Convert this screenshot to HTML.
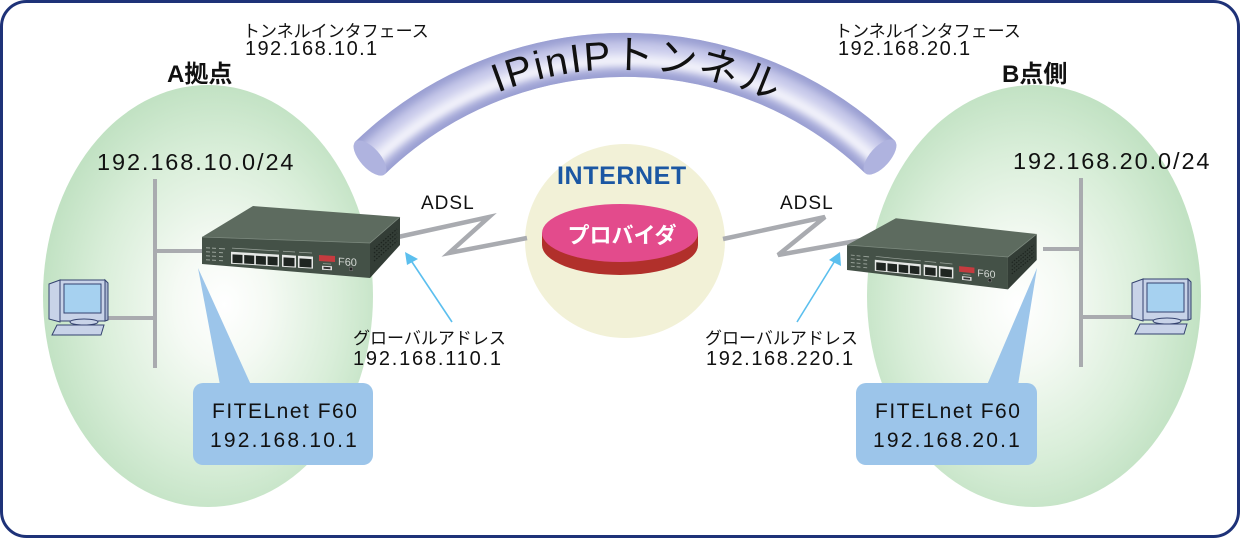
<!DOCTYPE html>
<html>
<head>
<meta charset="utf-8">
<style>
  html,body{margin:0;padding:0;background:#fff;}
  body{width:1240px;height:538px;overflow:hidden;}
  svg{display:block;}
  .jp{font-family:"Liberation Sans","Noto Sans CJK JP",sans-serif;}
</style>
</head>
<body>
<svg width="1240" height="538" viewBox="0 0 1240 538" xmlns="http://www.w3.org/2000/svg">
  <defs>
    <radialGradient id="gL" cx="0.52" cy="0.52" r="0.56" fx="0.55" fy="0.52">
      <stop offset="0" stop-color="#ffffff"/>
      <stop offset="0.25" stop-color="#f5faf4"/>
      <stop offset="0.65" stop-color="#d9eed9"/>
      <stop offset="1" stop-color="#bcdfbe"/>
    </radialGradient>
    <radialGradient id="gR" cx="0.48" cy="0.52" r="0.56" fx="0.45" fy="0.52">
      <stop offset="0" stop-color="#ffffff"/>
      <stop offset="0.25" stop-color="#f5faf4"/>
      <stop offset="0.65" stop-color="#d9eed9"/>
      <stop offset="1" stop-color="#bcdfbe"/>
    </radialGradient>
    <path id="arcText" d="M 318.4 246 A 354 354 0 0 1 931.6 246"/>
    <filter id="soft" x="-10%" y="-30%" width="120%" height="160%">
      <feGaussianBlur stdDeviation="3.2"/>
    </filter>
    <mask id="tubeMask" maskUnits="userSpaceOnUse" x="0" y="0" width="1240" height="538">
      <path d="M 370 158 A 368 368 0 0 1 880 157" fill="none" stroke="#ffffff" stroke-width="44"/>
    </mask>
  </defs>

  <!-- frame -->
  <rect x="1.5" y="1.5" width="1237" height="535" rx="25" ry="25" fill="#ffffff" stroke="#1e3278" stroke-width="3"/>

  <!-- site ellipses -->
  <ellipse cx="208" cy="296" rx="165" ry="211" fill="url(#gL)"/>
  <ellipse cx="1034" cy="296" rx="167" ry="211" fill="url(#gR)"/>

  <!-- internet circle -->
  <ellipse cx="625" cy="241" rx="100" ry="97" fill="#f2f1d7"/>

  <!-- tunnel -->
  <path d="M 370 158 A 368 368 0 0 1 880 157" fill="none" stroke="#9a9fd2" stroke-width="44"/>
  <g mask="url(#tubeMask)">
    <g fill="none" filter="url(#soft)">
      <path d="M 370 158 A 368 368 0 0 1 880 157" stroke="#9a9fd2" stroke-width="44"/>
      <path d="M 370 158 A 368 368 0 0 1 880 157" stroke="#b0b4de" stroke-width="34"/>
      <path d="M 370 158 A 368 368 0 0 1 880 157" stroke="#c9cbeb" stroke-width="24"/>
      <path d="M 372 161 A 366 366 0 0 1 878 160" stroke="#e2e3f5" stroke-width="14"/>
      <path d="M 373 163 A 365 365 0 0 1 877 162" stroke="#f6f6fc" stroke-width="6"/>
    </g>
  </g>
  <ellipse cx="370" cy="158" rx="22" ry="10" transform="rotate(48 370 158)" fill="#afb3df"/>
  <ellipse cx="880" cy="157" rx="22" ry="10" transform="rotate(-48 880 157)" fill="#afb3df"/>
  <text class="jp" font-size="40" letter-spacing="2" fill="#111"><textPath href="#arcText" startOffset="51.7%" text-anchor="middle">IPinIPトンネル</textPath></text>

  <!-- ADSL zigzags -->
  <g fill="none" stroke="#a9abb0" stroke-width="4.5" stroke-linejoin="miter">
    <polyline points="398,237 489,217 449,253 527,238"/>
    <polyline points="723,239 825,217 778,255 862,240"/>
  </g>

  <!-- provider disc -->
  <ellipse cx="620" cy="245" rx="78" ry="30" fill="#b1302b"/>
  <rect x="542" y="233" width="156" height="12" fill="#b1302b"/>
  <ellipse cx="620" cy="233" rx="78" ry="29" fill="#e34b8c"/>
  <text x="622" y="243" class="jp" font-size="22" font-weight="bold" fill="#ffffff" text-anchor="middle">プロバイダ</text>

  <text x="557" y="184" font-family="Liberation Sans, sans-serif" font-size="25" font-weight="bold" fill="#1b57a3" letter-spacing="0.6">INTERNET</text>

  <!-- LAN lines -->
  <g stroke="#a9abaf" stroke-width="4" fill="none">
    <line x1="155" y1="179" x2="155" y2="368"/>
    <line x1="155" y1="251" x2="204" y2="251"/>
    <line x1="104" y1="318" x2="155" y2="318"/>
    <line x1="1081" y1="178" x2="1081" y2="367"/>
    <line x1="1043" y1="249" x2="1081" y2="249"/>
    <line x1="1081" y1="317" x2="1133" y2="317"/>
  </g>

  <!-- PCs -->
  <g stroke="#34426f" stroke-width="1" fill="#c8d3e8">
    <polygon points="49,284 60,280 60,322 49,319"/>
    <rect x="60" y="280" width="45" height="41"/>
    <polygon points="105,280 108,283 108,320 105,321" fill="#a9b6d2"/>
    <rect x="64" y="284" width="37" height="29" fill="#a6d1f0"/>
    <ellipse cx="84" cy="322" rx="14" ry="3"/>
    <polygon points="57,325 104,325 101,335 52,335"/>
  </g>
  <g stroke="#34426f" stroke-width="1" fill="#c8d3e8" transform="translate(1083,-1)">
    <polygon points="49,284 60,280 60,322 49,319"/>
    <rect x="60" y="280" width="45" height="41"/>
    <polygon points="105,280 108,283 108,320 105,321" fill="#a9b6d2"/>
    <rect x="64" y="284" width="37" height="29" fill="#a6d1f0"/>
    <ellipse cx="84" cy="322" rx="14" ry="3"/>
    <polygon points="57,325 104,325 101,335 52,335"/>
  </g>

  <!-- Router left -->
  <g>
    <polygon points="202,237 253,206 400,217 370,243" fill="#5d6b5f"/>
    <polygon points="202,237 370,243 370,278 202,264" fill="#445147"/>
    <polygon points="370,243 400,217 400,245 370,278" fill="#333d36"/>
    <polyline points="202,237 370,243 400,217" fill="none" stroke="#7d8a7f" stroke-width="0.8"/>
    <g stroke="#1d241f" stroke-width="1.2" stroke-dasharray="1.5 1.5">
      <line x1="374" y1="249" x2="397" y2="229"/>
      <line x1="374" y1="253" x2="397" y2="233"/>
      <line x1="374" y1="257" x2="397" y2="237"/>
      <line x1="374" y1="261" x2="397" y2="241"/>
    </g>
    <g transform="translate(202,237) matrix(1,0.06,0,1,0,0)">
      <g fill="#9aa39b">
        <rect x="4" y="10" width="4" height="1"/><rect x="10" y="10" width="4" height="1"/><rect x="17" y="10" width="6" height="1"/>
        <rect x="4" y="14" width="4" height="1"/><rect x="10" y="14" width="4" height="1"/><rect x="17" y="14" width="4" height="1"/>
        <rect x="4" y="18" width="4" height="1"/><rect x="10" y="18" width="4" height="1"/><rect x="17" y="18" width="4" height="1"/>
        <rect x="4" y="22" width="4" height="1"/><rect x="10" y="22" width="4" height="1"/><rect x="17" y="22" width="4" height="1"/>
        <rect x="30" y="9" width="47" height="0.7"/>
        <rect x="81" y="9" width="12" height="0.8"/>
        <rect x="97" y="9" width="13" height="0.8"/>
        <rect x="121" y="19" width="8" height="0.8"/>
      </g>
      <rect x="29" y="13" width="48" height="12" fill="#e6e8e6"/>
      <g fill="#1f2521">
        <rect x="30.5" y="15.5" width="10" height="8.5"/>
        <rect x="42.2" y="15.5" width="10" height="8.5"/>
        <rect x="53.9" y="15.5" width="10" height="8.5"/>
        <rect x="65.6" y="15.5" width="10" height="8.5"/>
      </g>
      <rect x="80" y="13" width="14" height="12" fill="#e6e8e6"/>
      <rect x="81.5" y="15.5" width="11" height="8.5" fill="#1f2521"/>
      <rect x="96" y="13" width="15" height="12" fill="#e6e8e6"/>
      <rect x="97.5" y="15.5" width="12" height="8.5" fill="#1f2521"/>
      <rect x="117" y="11" width="16" height="6" fill="#c63b3f"/>
      <text x="136" y="20" font-family="Liberation Sans, sans-serif" font-size="11" fill="#d4d8d4">F60</text>
      <rect x="120" y="21.5" width="10" height="4" fill="#e0e0e0"/>
      <rect x="121.5" y="22.5" width="7" height="2" fill="#333"/>
      <circle cx="149" cy="23" r="1.8" fill="#222" stroke="#888" stroke-width="0.5"/>
    </g>
  </g>

  <!-- Router right -->
  <g transform="matrix(0.958 0.0383 0 0.926 653.5 17.8)">
    <polygon points="202,237 253,206 400,217 370,243" fill="#5d6b5f"/>
    <polygon points="202,237 370,243 370,278 202,264" fill="#445147"/>
    <polygon points="370,243 400,217 400,245 370,278" fill="#333d36"/>
    <polyline points="202,237 370,243 400,217" fill="none" stroke="#7d8a7f" stroke-width="0.8"/>
    <g stroke="#1d241f" stroke-width="1.2" stroke-dasharray="1.5 1.5">
      <line x1="374" y1="249" x2="397" y2="229"/>
      <line x1="374" y1="253" x2="397" y2="233"/>
      <line x1="374" y1="257" x2="397" y2="237"/>
      <line x1="374" y1="261" x2="397" y2="241"/>
    </g>
    <g transform="translate(202,237) matrix(1,0.06,0,1,0,0)">
      <g fill="#9aa39b">
        <rect x="4" y="10" width="4" height="1"/><rect x="10" y="10" width="4" height="1"/><rect x="17" y="10" width="6" height="1"/>
        <rect x="4" y="14" width="4" height="1"/><rect x="10" y="14" width="4" height="1"/><rect x="17" y="14" width="4" height="1"/>
        <rect x="4" y="18" width="4" height="1"/><rect x="10" y="18" width="4" height="1"/><rect x="17" y="18" width="4" height="1"/>
        <rect x="4" y="22" width="4" height="1"/><rect x="10" y="22" width="4" height="1"/><rect x="17" y="22" width="4" height="1"/>
        <rect x="30" y="9" width="47" height="0.7"/>
        <rect x="81" y="9" width="12" height="0.8"/>
        <rect x="97" y="9" width="13" height="0.8"/>
        <rect x="121" y="19" width="8" height="0.8"/>
      </g>
      <rect x="29" y="13" width="48" height="12" fill="#e6e8e6"/>
      <g fill="#1f2521">
        <rect x="30.5" y="15.5" width="10" height="8.5"/>
        <rect x="42.2" y="15.5" width="10" height="8.5"/>
        <rect x="53.9" y="15.5" width="10" height="8.5"/>
        <rect x="65.6" y="15.5" width="10" height="8.5"/>
      </g>
      <rect x="80" y="13" width="14" height="12" fill="#e6e8e6"/>
      <rect x="81.5" y="15.5" width="11" height="8.5" fill="#1f2521"/>
      <rect x="96" y="13" width="15" height="12" fill="#e6e8e6"/>
      <rect x="97.5" y="15.5" width="12" height="8.5" fill="#1f2521"/>
      <rect x="117" y="11" width="16" height="6" fill="#c63b3f"/>
      <text x="136" y="20" font-family="Liberation Sans, sans-serif" font-size="11" fill="#d4d8d4">F60</text>
      <rect x="120" y="21.5" width="10" height="4" fill="#e0e0e0"/>
      <rect x="121.5" y="22.5" width="7" height="2" fill="#333"/>
      <circle cx="149" cy="23" r="1.8" fill="#222" stroke="#888" stroke-width="0.5"/>
    </g>
  </g>

  <!-- blue arrows -->
  <g stroke="#5bbfee" stroke-width="1.6" fill="none">
    <line x1="452" y1="322" x2="410" y2="259"/>
    <line x1="797" y1="322" x2="836" y2="259"/>
  </g>
  <polygon points="405,252 418,259 407,265" fill="#5bbfee"/>
  <polygon points="840,252 841,266 829,260" fill="#5bbfee"/>

  <!-- callouts -->
  <g fill="#9cc5ea">
    <polygon points="198,268 220,385 251,385"/>
    <rect x="193" y="383" width="180" height="82" rx="10" ry="10"/>
    <polygon points="1037,268 987,385 1018,385"/>
    <rect x="856" y="383" width="181" height="82" rx="10" ry="10"/>
  </g>

  <!-- texts -->
  <g class="jp" fill="#111">
    <text x="243" y="37" font-size="17">トンネルインタフェース</text>
    <text x="245" y="55" font-size="20" letter-spacing="1.4">192.168.10.1</text>
    <text x="835" y="37" font-size="17">トンネルインタフェース</text>
    <text x="838" y="55" font-size="20" letter-spacing="1.4">192.168.20.1</text>

    <text x="167" y="82" font-size="24" font-weight="bold">A拠点</text>
    <text x="1002" y="82" font-size="24" font-weight="bold">B点側</text>

    <text x="97" y="170" font-size="23.5" letter-spacing="1.9">192.168.10.0/24</text>
    <text x="1013" y="169" font-size="23.5" letter-spacing="1.9">192.168.20.0/24</text>

    <text x="421" y="209" font-size="19" letter-spacing="1">ADSL</text>
    <text x="780" y="209" font-size="19" letter-spacing="1">ADSL</text>

    <text x="353" y="344" font-size="17">グローバルアドレス</text>
    <text x="353" y="365" font-size="20" letter-spacing="1.8">192.168.110.1</text>
    <text x="705" y="344" font-size="17">グローバルアドレス</text>
    <text x="706" y="365" font-size="20" letter-spacing="1.6">192.168.220.1</text>

    <text x="212" y="418" font-size="21" letter-spacing="1.5">FITELnet F60</text>
    <text x="210" y="447" font-size="21" letter-spacing="2.2">192.168.10.1</text>
    <text x="875" y="418" font-size="21" letter-spacing="1.5">FITELnet F60</text>
    <text x="873" y="447" font-size="21" letter-spacing="2.2">192.168.20.1</text>
  </g>
</svg>
</body>
</html>
